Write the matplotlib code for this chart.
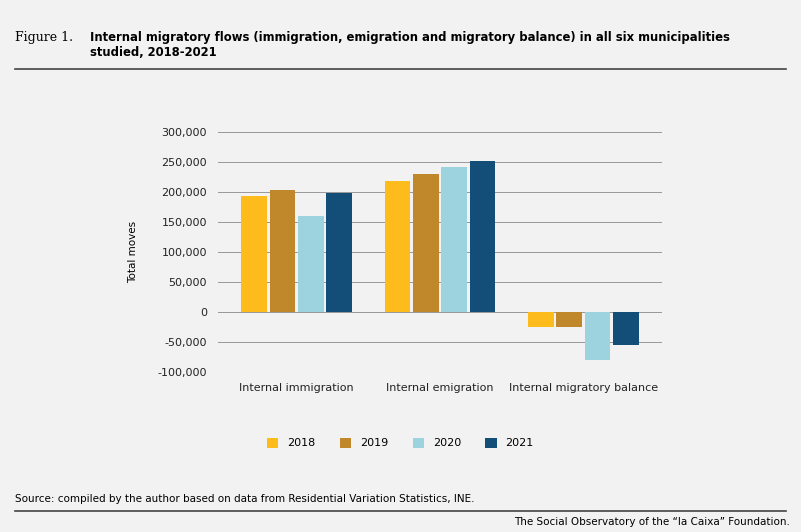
import matplotlib.pyplot as plt
import numpy as np

categories = ["Internal immigration", "Internal emigration", "Internal migratory balance"]
years = ["2018", "2019", "2020", "2021"]
values = {
    "2018": [193000, 218000, -25000],
    "2019": [203000, 230000, -25000],
    "2020": [160000, 242000, -80000],
    "2021": [198000, 252000, -55000],
}
colors = ["#FDBB1C", "#C0882A", "#9DD3DF", "#134E78"]
bg = "#F2F2F2"

fig = plt.figure(figsize=(8.01, 5.32), dpi=100, facecolor=bg)
W, H = 801, 532
ax = fig.add_axes([218 / W, 1 - 372 / H, (662 - 218) / W, (372 - 132) / H], facecolor=bg)

x = np.arange(len(categories))
bw = 0.18
for i, (yr, c) in enumerate(zip(years, colors)):
    ax.bar(x + (i - 1.5) * bw * 1.1, values[yr], bw, color=c, label=yr, zorder=3)

ax.set_ylim(-100000, 300000)
ax.set_xlim(-0.55, 2.55)
ticks = np.arange(-100000, 300001, 50000)
ax.set_yticks(ticks)
ax.set_yticklabels([f"{t:,}" for t in ticks], fontsize=8, color="#222")
ax.set_xticks(x)
ax.set_xticklabels(categories, fontsize=8, color="#222")
ax.tick_params(length=0, pad=8)
ax.grid(axis="y", color="#999", linewidth=0.7, zorder=0)
for s in ax.spines.values():
    s.set_visible(False)
ax.axhline(0, color="#999", linewidth=0.7, zorder=1)
ax.set_ylabel("Total moves", fontsize=7.5, labelpad=14)

fig.legend(loc="center", bbox_to_anchor=(0.5, 1 - 443 / H), ncol=4, frameon=False,
           fontsize=8, handlelength=1.0, handleheight=1.0, columnspacing=2.2)

fig.text(15 / W, 1 - 37 / H, "Figure 1.", family="DejaVu Serif", fontsize=9, va="center")
fig.text(90 / W, 1 - 37 / H, "Internal migratory flows (immigration, emigration and migratory balance) in all six municipalities",
         fontsize=8.4, weight="bold", va="center")
fig.text(90 / W, 1 - 53 / H, "studied, 2018-2021", fontsize=8.4, weight="bold", va="center")
fig.add_artist(plt.Line2D([15 / W, 786 / W], [1 - 69 / H] * 2, color="#444", lw=1.2))
fig.add_artist(plt.Line2D([15 / W, 786 / W], [1 - 511 / H] * 2, color="#444", lw=1.2))
fig.text(15 / W, 1 - 499 / H, "Source: compiled by the author based on data from Residential Variation Statistics, INE.",
         fontsize=7.5, va="center")
fig.text(790 / W, 1 - 522 / H, "The Social Observatory of the \u201cla Caixa\u201d Foundation.",
         fontsize=7.5, va="center", ha="right")

fig.savefig("out.png", facecolor=bg)
